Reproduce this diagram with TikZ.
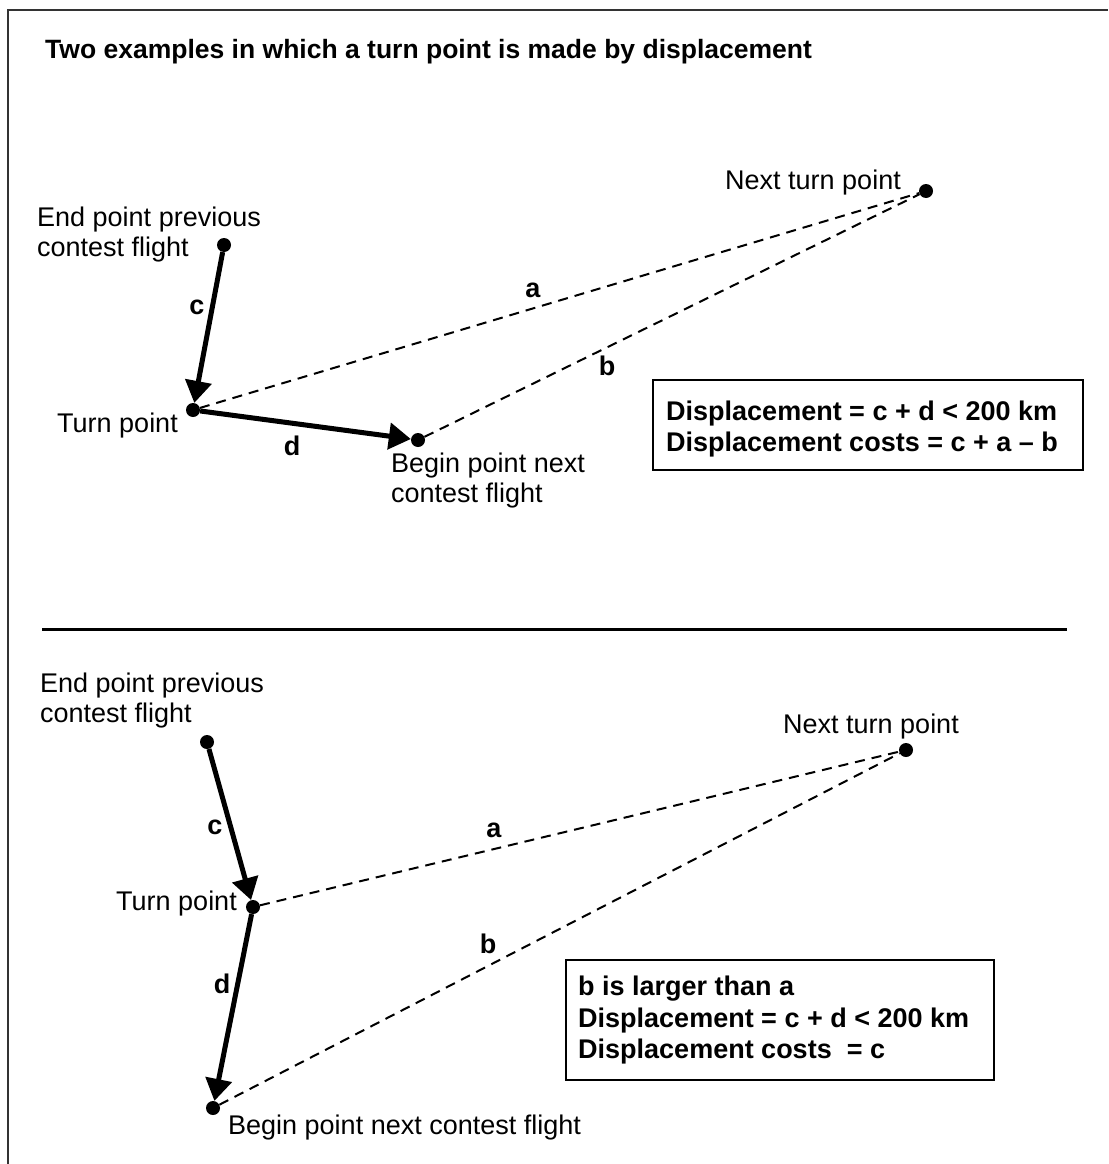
\documentclass[tikz,border=0pt]{standalone}
\usepackage{fontspec}
\setmainfont{Liberation Sans}
\usetikzlibrary{arrows.meta}
\begin{document}
\begin{tikzpicture}[x=1pt,y=-1pt,
  dot/.style={circle,fill=black,inner sep=0pt,minimum size=14pt},
  arr/.style={line width=5pt,-{Triangle[length=22pt,width=26pt]}},
  dline/.style={line width=2pt,dash pattern=on 10pt off 7pt},
  txt/.style={inner sep=0pt,anchor=base west,font=\fontsize{27}{31}\selectfont},
  btxt/.style={txt,font=\fontsize{27}{31}\selectfont\bfseries},
  lbl/.style={inner sep=0pt,font=\fontsize{27}{31}\selectfont\bfseries},
  infobox/.style={draw,line width=2pt},
  frame/.style={line width=2pt,draw=black!80}]
\useasboundingbox (0,0) rectangle (1108,1164);
% frame
\draw[frame] (8,1164) -- (8,10) -- (1108,10);
\node[txt,font=\fontsize{26.5}{30}\selectfont\bfseries] (title) at (45,59) {Two examples in which a turn point is made by displacement};

% ---------- top example ----------
\node[dot] (e1) at (224,245) {};
\node[dot] (t1) at (193,410) {};
\node[dot] (b1) at (418,440) {};
\node[dot] (n1) at (926,191) {};
\draw[dline] (t1) -- (n1);
\draw[dline] (b1) -- (n1);
\draw[arr] (e1) -- (t1);
\draw[arr] (t1) -- (b1);
\node[txt] (e1t1) at (37,226) {End point previous};
\node[txt] (e1t2) at (37,256) {contest flight};
\node[txt,anchor=base east] (t1t) at (178,432) {Turn point};
\node[txt] (b1t1) at (391,472) {Begin point next};
\node[txt] (b1t2) at (391,502) {contest flight};
\node[txt,anchor=base east] (n1t) at (901,189) {Next turn point};
\node[lbl] (c1) at (197,307) {c};
\node[lbl] (a1) at (533,290) {a};
\node[lbl] (bb1) at (607,366) {b};
\node[lbl] (d1) at (292,446) {d};
\draw[infobox] (653,380) rectangle (1083,470);
\node[btxt] (box1a) at (666,420) {Displacement = c + d < 200 km};
\node[btxt] (box1b) at (666,451) {Displacement costs = c + a -- b};

% divider
\draw[line width=3pt] (42,629) -- (1067,629);

% ---------- bottom example ----------
\node[dot] (e2) at (207,742) {};
\node[dot] (t2) at (253,907) {};
\node[dot] (b2) at (213,1108) {};
\node[dot] (n2) at (906,750) {};
\draw[dline] (t2) -- (n2);
\draw[dline] (b2) -- (n2);
\draw[arr] (e2) -- (t2);
\draw[arr] (t2) -- (b2);
\node[txt] (e2t1) at (40,692) {End point previous};
\node[txt] (e2t2) at (40,722) {contest flight};
\node[txt,anchor=base east] (t2t) at (237,910) {Turn point};
\node[txt] (b2t) at (228,1134) {Begin point next contest flight};
\node[txt] (n2t) at (783,733) {Next turn point};
\node[lbl] (c2) at (215,827) {c};
\node[lbl] (a2) at (494,830) {a};
\node[lbl] (bb2) at (488,944) {b};
\node[lbl] (d2) at (222,984) {d};
\draw[infobox] (566,960) rectangle (994,1080);
\node[btxt] (box2a) at (578,995) {b is larger than a};
\node[btxt] (box2b) at (578,1027) {Displacement = c + d < 200 km};
\node[btxt] (box2c) at (578,1058) {Displacement costs\ \ = c};
\end{tikzpicture}
\end{document}
